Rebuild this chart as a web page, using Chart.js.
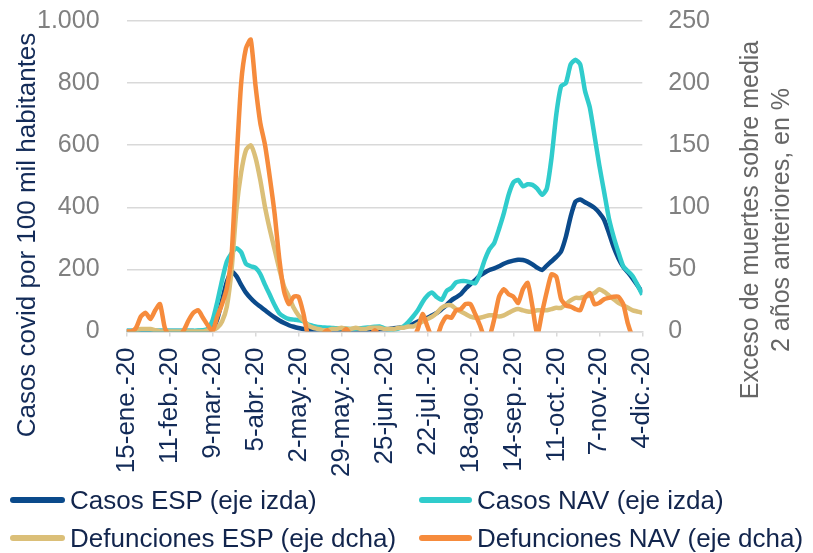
<!DOCTYPE html>
<html>
<head>
<meta charset="utf-8">
<script src="https://cdn.jsdelivr.net/npm/chart.js@4.4.1/dist/chart.umd.min.js"></script>
<style>
  html, body { margin: 0; padding: 0; background: #fff; }
  #wrap { position: relative; width: 813px; height: 553px; overflow: hidden; font-family: "Liberation Sans", Arial, sans-serif; }
  #chart { position: absolute; left: 0; top: -21px; }
  .ytitle { position: absolute; width: 500px; text-align: center; transform: rotate(-90deg); white-space: nowrap; }
  #titleLeft { left: -224px; top: 220px; height: 30px; line-height: 30px; font-size: 26px; color: #132b58; }
  #titleRight { left: 515px; top: 189px; height: 62px; line-height: 31px; font-size: 25px; color: #666666; }
  .lg { position: absolute; font-size: 26px; line-height: 30px; color: #12254d; white-space: nowrap; }
  .sw { position: absolute; height: 6px; border-radius: 3px; }
</style>
</head>
<body>
<div id="wrap">
  <canvas id="chart" width="813" height="574"></canvas>
  <div id="titleLeft" class="ytitle">Casos covid por 100 mil habitantes</div>
  <div id="titleRight" class="ytitle">Exceso de muertes sobre media<br>2 años anteriores, en %</div>
  <div id="legend"></div>
</div>
<script>
// days since 15-ene-20, every 3 days
const days = [
  0, 3, 6, 9, 12, 15, 18, 21, 24,
  27, 30, 33, 36, 39, 42, 45, 48, 51,
  54, 57, 60, 63, 66, 69, 72, 75, 78,
  81, 84, 87, 90, 93, 96, 99, 102, 105,
  108, 111, 114, 117, 120, 123, 126, 129, 132,
  135, 138, 141, 144, 147, 150, 153, 156, 159,
  162, 165, 168, 171, 174, 177, 180, 183, 186,
  189, 192, 195, 198, 201, 204, 207, 210, 213,
  216, 219, 222, 225, 228, 231, 234, 237, 240,
  243, 246, 249, 252, 255, 258, 261, 264, 267,
  270, 273, 276, 279, 282, 285, 288, 291, 294,
  297, 300, 303, 306, 309, 312, 315, 318, 321,
  324
];

const tickLabels = ["15-ene.-20", "11-feb.-20", "9-mar.-20", "5-abr.-20", "2-may.-20", "29-may.-20",
  "25-jun.-20", "22-jul.-20", "18-ago.-20", "14-sep.-20", "11-oct.-20", "7-nov.-20", "4-dic.-20"];

// left axis: cases per 100k
const casosEsp = [
  1, 1, 1, 1, 1, 1, 1, 1, 1,
  1, 1, 1, 1, 1, 1, 1, 2, 3,
  8, 40, 100, 160, 192, 178, 150, 125, 107,
  92, 80, 68, 56, 45, 35, 27, 20, 15,
  11, 8, 6, 5, 4, 4, 4, 4, 4,
  4, 4, 5, 5, 5, 5, 6, 6, 7,
  7, 8, 10, 12, 14, 18, 24, 32, 38,
  44, 52, 60, 72, 85, 100, 110, 120, 138,
  152, 165, 180, 190, 198, 203, 210, 218, 224,
  228, 231, 230, 225, 216, 205, 198, 212, 226,
  240, 258, 305, 370, 418, 425, 416, 408, 398,
  382, 360, 318, 272, 236, 208, 190, 170, 148,
  125
];
const casosNav = [
  2, 2, 2, 2, 2, 2, 2, 2, 2,
  2, 2, 2, 2, 2, 2, 3, 4, 8,
  35, 95, 165, 225, 252, 268, 255, 218, 210,
  205, 185, 150, 118, 85, 58, 47, 40, 38,
  36, 33, 22, 18, 14, 13, 12, 11, 10,
  10, 9, 8, 9, 10, 12, 13, 15, 16,
  10, 6, 6, 10, 16, 30, 48, 68, 95,
  115, 125, 110, 102, 130, 140, 158, 162, 162,
  158, 155, 185, 230, 265, 285, 330, 380, 440,
  480, 488, 468, 474, 472, 460, 440, 460, 560,
  700, 790, 800, 860, 875, 860, 775, 722, 630,
  535, 450, 365, 305, 255, 210, 194, 178, 150,
  118
];
// right axis: excess deaths, %
const defEsp = [
  0, 0, 1, 2, 2, 2, 1, 0, 0,
  0, 0, 0, 0, 0, 0, 0, 0, 1,
  1, 3, 8, 20, 50, 98, 128, 146, 150,
  140, 122, 100, 82, 66, 50, 36, 28, 19,
  13, 9, 5, 3, 2, 1, 1, 2, 2,
  3, 2, 2, 3, 2, 2, 3, 3, 3,
  2, 2, 2, 3, 3, 4, 4, 6, 8,
  10, 12, 15, 19, 21, 21, 18, 16, 14,
  12, 11, 11, 12, 13, 13, 12, 13, 15,
  17, 18, 17, 16, 16, 17, 17, 17, 18,
  19, 19, 22, 25, 27, 27, 28, 29, 31,
  34, 32, 29, 26, 23, 21, 19, 17, 16,
  15
];
const defNav = [
  0, 0, 3, 12, 15, 10, 17, 22, 3,
  -4, -5, -4, 1, 9, 15, 17, 11, 5,
  0, 12, 22, 35, 62, 135, 200, 228, 235,
  198, 168, 150, 124, 95, 58, 32, 22, 28,
  28, 15, -3, -5, -4, -2, 1, -3, -4,
  -2, 2, -3, -4, -2, -4, -3, 1, -3,
  -5, -3, -2, -4, -3, -4, -5, 2, 14,
  4, -5, -4, 6, 12, 11, 17, 18, 22,
  22, 14, 5, -5, -4, 10, 28, 34, 30,
  28, 23, 34, 39, 20, -3, 15, 32, 46,
  44, 26, 21, 20, 18, 17, 27, 31, 22,
  23, 26, 27, 28, 28, 22, 6, -4, -5,
  -5
];

const seriesNames = ["Casos ESP (eje izda)", "Casos NAV (eje izda)", "Defunciones ESP (eje dcha)", "Defunciones NAV (eje dcha)"];
const seriesColors = ["#0b4a8b", "#30cccc", "#dbbf78", "#f68b3c"];

const navy = "#132b58";
const gray = "#808080";
const gridGray = "#d9d9d9";

function pts(vals) {
  return vals.map((v, i) => ({ x: days[i], y: v }));
}

function thousands(v) {
  return String(v).replace(/\B(?=(\d{3})+(?!\d))/g, ".");
}

const seriesData = [casosEsp, casosNav, defEsp, defNav];
const axisOf = ["y", "y", "y1", "y1"];

const datasets = seriesData.map((vals, i) => ({
  label: seriesNames[i],
  data: pts(vals),
  borderColor: seriesColors[i],
  backgroundColor: seriesColors[i],
  borderWidth: 4.5,
  pointRadius: 0,
  tension: 0.2,
  yAxisID: axisOf[i],
  order: 3 - i   // later series drawn on top
}));

new Chart(document.getElementById("chart"), {
  type: "line",
  data: { datasets },
  options: {
    responsive: false,
    animation: false,
    devicePixelRatio: 1,
    layout: { padding: { left: 10, right: 77, top: 0, bottom: 65 } },
    plugins: { legend: { display: false }, tooltip: { enabled: false } },
    scales: {
      x: {
        type: "linear",
        min: 0,
        max: 324,
        grid: { drawOnChartArea: false, color: gridGray, lineWidth: 1.5, tickLength: 5 },
        border: { color: gridGray, width: 1.5 },
        ticks: {
          stepSize: 27,
          autoSkip: false,
          maxRotation: 90,
          minRotation: 90,
          padding: 11,
          color: navy,
          font: { family: "Liberation Sans", size: 26 },
          callback: v => tickLabels[Math.round(v / 27)]
        }
      },
      y: {
        position: "left",
        min: 0,
        max: 1000,
        grid: { color: gridGray, lineWidth: 1.5, drawTicks: false },
        border: { display: false },
        ticks: {
          stepSize: 200,
          padding: 27,
          color: gray,
          font: { family: "Liberation Sans", size: 25 },
          callback: v => thousands(v)
        }
      },
      y1: {
        position: "right",
        min: 0,
        max: 250,
        grid: { drawOnChartArea: false, drawTicks: false },
        border: { display: false },
        ticks: {
          stepSize: 50,
          padding: 26,
          color: gray,
          font: { family: "Liberation Sans", size: 25 }
        }
      }
    }
  }
});

// legend, two columns like the original
const legendPos = [
  { sw: 10, tx: 70, y: 500 },
  { sw: 419, tx: 477, y: 500 },
  { sw: 10, tx: 70, y: 538 },
  { sw: 419, tx: 477, y: 538 }
];
const legend = document.getElementById("legend");
seriesNames.forEach((name, i) => {
  const p = legendPos[i];
  const sw = document.createElement("div");
  sw.className = "sw";
  sw.style.left = p.sw + "px";
  sw.style.width = (p.tx - p.sw - 5) + "px";
  sw.style.top = (p.y - 3) + "px";
  sw.style.background = seriesColors[i];
  legend.appendChild(sw);
  const tx = document.createElement("div");
  tx.className = "lg";
  tx.style.left = p.tx + "px";
  tx.style.top = (p.y - 15) + "px";
  tx.textContent = name;
  legend.appendChild(tx);
});
</script>
</body>
</html>
